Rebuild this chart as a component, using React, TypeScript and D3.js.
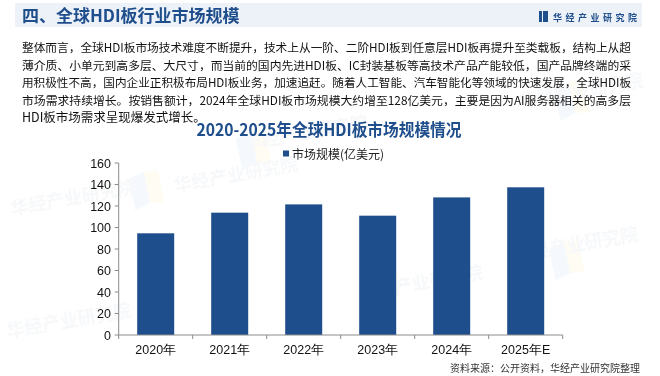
import React from "react";
import * as d3 from "d3";

const categories = ["2020年", "2021年", "2022年", "2023年", "2024年", "2025年E"];
const marketSize = [94.6, 113.8, 121.5, 111.0, 128.0, 137.4];
const yTicks = [0, 20, 40, 60, 80, 100, 120, 140, 160];
const paragraphLines = [
  "整体而言，全球HDI板市场技术难度不断提升，技术上从一阶、二阶HDI板到任意层HDI板再提升至类载板，结构上从超",
  "薄介质、小单元到高多层、大尺寸，而当前的国内先进HDI板、IC封装基板等高技术产品产能较低，国产品牌终端的采",
  "用积极性不高，国内企业正积极布局HDI板业务，加速追赶。随着人工智能、汽车智能化等领域的快速发展，全球HDI板",
  "市场需求持续增长。按销售额计，2024年全球HDI板市场规模大约增至128亿美元，主要是因为AI服务器相关的高多层",
  "HDI板市场需求呈现爆发式增长。",
];
const headerTitle = "四、全球HDI板行业市场规模";
const brandName = "华经产业研究院";
const chartTitle = "2020-2025年全球HDI板市场规模情况";
const legendLabel = "市场规模(亿美元)";
const sourceNote = "资料来源：公开资料，华经产业研究院整理";

const W = 660;
const H = 376;
const BLUE = "#1f4e8c";
const CJK = "'Noto Sans CJK SC', 'Noto Sans', sans-serif";
const NUM = "'Liberation Sans', Arial, sans-serif";

const watermarks = [
  { x: 12, y: 215, s: 15 },
  { x: 175, y: 192, s: 15 },
  { x: 245, y: 150, s: 15 },
  { x: 360, y: 300, s: 15 },
  { x: 515, y: 262, s: 15 },
  { x: 520, y: 108, s: 15 },
  { x: 8, y: 338, s: 15 },
];
const wmLogos = [
  { x: 128, y: 175 },
  { x: 235, y: 135 },
  { x: 548, y: 245 },
  { x: 553, y: 85 },
  { x: 365, y: 270 },
];

export default function App() {
  const x = d3
    .scaleBand<string>()
    .domain(categories)
    .range([118.7, 562.7])
    .paddingInner(0.5)
    .paddingOuter(0.25);
  const y = d3.scaleLinear().domain([0, 160]).range([335, 163]);
  const step = x.step();
  const x0 = 118.7;
  const boundaries = d3.range(categories.length + 1).map((i) => x0 + i * step);
  const axisColor = "#8c8c8c";

  return (
    <svg
      width={W}
      height={H}
      viewBox={`0 0 ${W} ${H}`}
      style={{ position: "absolute", left: 0, top: 0, background: "#fff" }}
    >
      <rect x={0} y={0} width={W} height={H} fill="#fff" />
      {/* watermarks */}
      <g opacity={0.06}>
        {wmLogos.map((l, i) => (
          <g key={"l" + i} transform={`translate(${l.x},${l.y}) rotate(-12)`}>
            <path d="M0,4 L16,0 L16,32 L0,36 Z" fill="#5b8fd0" />
            <path d="M16,0 L30,2 L30,34 L16,32 Z" fill="#f2c230" />
          </g>
        ))}
        {watermarks.map((w, i) => (
          <text
            key={"w" + i}
            x={w.x}
            y={w.y}
            fontSize={w.s + 3}
            fontFamily={CJK}
            fontWeight={700}
            fill="#6f86a8"
            transform={`rotate(-10 ${w.x} ${w.y})`}
          >
            {brandName}
          </text>
        ))}
      </g>

      {/* header band */}
      <rect x={15} y={3} width={627} height={24} fill="#edf2f9" />
      <text x={22} y={21.5} fontSize={17} fontWeight={700} fill={BLUE} fontFamily={CJK}>
        {headerTitle}
      </text>
      <rect x={539} y={11} width={3} height={11} fill={BLUE} />
      <rect x={543} y={11} width={5} height={11} fill={BLUE} />
      <text
        x={553}
        y={20.5}
        fontSize={9}
        fontWeight={700}
        fill={BLUE}
        fontFamily={CJK}
        textLength={84}
        lengthAdjust="spacing"
      >
        {brandName}
      </text>

      {/* paragraph */}
      {paragraphLines.map((line, i) => (
        <text
          key={"p" + i}
          x={22}
          y={52 + i * 17.5}
          fontSize={i < paragraphLines.length - 1 ? 11.8 : 12.5}
          fill="#111"
          fontFamily={CJK}
          {...(i < paragraphLines.length - 1
            ? { textLength: 609, lengthAdjust: "spacingAndGlyphs" }
            : {})}
        >
          {line}
        </text>
      ))}

      {/* chart title */}
      <text
        x={329}
        y={136}
        textAnchor="middle"
        fontSize={17}
        fontWeight={700}
        fill={BLUE}
        fontFamily={CJK}
        textLength={265}
        lengthAdjust="spacingAndGlyphs"
      >
        {chartTitle}
      </text>

      {/* legend */}
      <rect x={283} y={150.5} width={6} height={6} fill={BLUE} />
      <text x={292} y={158.5} fontSize={12} fill="#222" fontFamily={CJK}>
        {legendLabel}
      </text>

      {/* bars */}
      {categories.map((c, i) => (
        <rect
          key={c}
          x={x(c)}
          y={y(marketSize[i])}
          width={x.bandwidth()}
          height={y(0) - y(marketSize[i])}
          fill={BLUE}
        />
      ))}

      {/* y axis */}
      <line x1={x0} x2={x0} y1={y(160)} y2={y(0)} stroke={axisColor} strokeWidth={1} />
      {yTicks.map((t) => (
        <g key={"y" + t}>
          <line x1={x0 - 4} x2={x0} y1={y(t)} y2={y(t)} stroke={axisColor} />
          <text
            x={111}
            y={y(t) + 4.5}
            textAnchor="end"
            fontSize={12.5}
            fill="#111"
            fontFamily={NUM}
          >
            {t}
          </text>
        </g>
      ))}

      {/* x axis */}
      <line x1={x0} x2={boundaries[boundaries.length - 1]} y1={y(0)} y2={y(0)} stroke={axisColor} />
      {boundaries.map((b, i) => (
        <line key={"b" + i} x1={b} x2={b} y1={y(0)} y2={y(0) + 4} stroke={axisColor} />
      ))}
      {categories.map((c) => (
        <text
          key={"xl" + c}
          x={(x(c) as number) + x.bandwidth() / 2}
          y={354}
          textAnchor="middle"
          fontSize={12.5}
          fill="#111"
          fontFamily={NUM}
        >
          {c}
        </text>
      ))}

      {/* source */}
      <text x={640} y={372} textAnchor="end" fontSize={10} fill="#333" fontFamily={CJK}>
        {sourceNote}
      </text>
    </svg>
  );
}
